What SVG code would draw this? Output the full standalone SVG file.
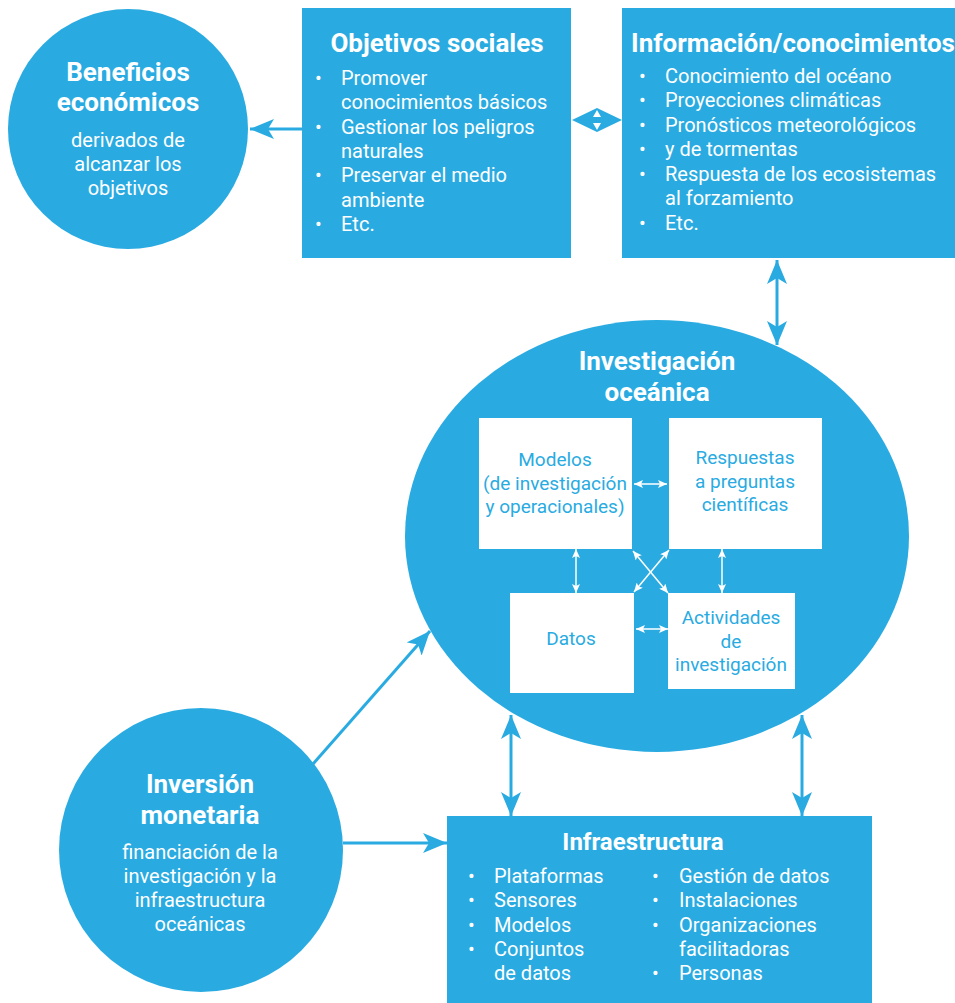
<svg xmlns="http://www.w3.org/2000/svg" width="955" height="1003" viewBox="0 0 955 1003">
<style>
.blue{fill:#29abe2}
.t{font-family:Roboto,"Liberation Sans",sans-serif;fill:#fff}
.h{font-size:26px;font-weight:bold;text-anchor:middle}
.b{font-size:20px}
.c{text-anchor:middle}
.in{font-family:Roboto,"Liberation Sans",sans-serif;fill:#29abe2;font-size:19px;text-anchor:middle}
.ln{stroke:#29abe2;stroke-width:3;fill:none}
.wl{stroke:#fff;stroke-width:1.5;fill:none}
</style>
<defs>
<marker id="ah" viewBox="0 0 24 20" refX="24" refY="10" markerWidth="24" markerHeight="20" markerUnits="userSpaceOnUse" orient="auto-start-reverse">
<path d="M0,0 L24,10 L0,20 L6,10 Z" fill="#29abe2"/>
</marker>
<marker id="wh" viewBox="0 0 9 8" refX="9" refY="4" markerWidth="9" markerHeight="8" markerUnits="userSpaceOnUse" orient="auto-start-reverse">
<path d="M0,0 L9,4 L0,8 L2,4 Z" fill="#fff"/>
</marker>
</defs>

<g id="beneficios">
<circle class="blue" cx="128" cy="129" r="120"/>
<text class="t h" x="128" y="81">Beneficios</text>
<text class="t h" x="128" y="111">económicos</text>
<text class="t b c" x="128" y="147">derivados de</text>
<text class="t b c" x="128" y="171">alcanzar los</text>
<text class="t b c" x="128" y="195">objetivos</text>
</g>

<g id="objetivos">
<rect class="blue" x="302" y="8" width="269" height="250"/>
<text class="t h" x="437" y="52">Objetivos sociales</text>
<g class="t b">
<text x="315" y="85">•</text><text x="341" y="85">Promover</text>
<text x="341" y="109">conocimientos básicos</text>
<text x="315" y="134">•</text><text x="341" y="134">Gestionar los peligros</text>
<text x="341" y="158">naturales</text>
<text x="315" y="182">•</text><text x="341" y="182">Preservar el medio</text>
<text x="341" y="207">ambiente</text>
<text x="315" y="231">•</text><text x="341" y="231">Etc.</text>
</g>
</g>

<g id="informacion">
<rect class="blue" x="622" y="8" width="333" height="250"/>
<text class="t h" x="793" y="52">Información/conocimientos</text>
<g class="t b">
<text x="639" y="83">•</text><text x="665" y="83">Conocimiento del océano</text>
<text x="639" y="107">•</text><text x="665" y="107">Proyecciones climáticas</text>
<text x="639" y="132">•</text><text x="665" y="132">Pronósticos meteorológicos</text>
<text x="639" y="156">•</text><text x="665" y="156">y de tormentas</text>
<text x="639" y="181">•</text><text x="665" y="181">Respuesta de los ecosistemas</text>
<text x="665" y="205">al forzamiento</text>
<text x="639" y="230">•</text><text x="665" y="230">Etc.</text>
</g>
</g>

<g id="investigacion">
<ellipse class="blue" cx="657" cy="536" rx="252" ry="216"/>
<text class="t h" x="657" y="370">Investigación</text>
<text class="t h" x="657" y="401">oceánica</text>
<g id="modelos">
<rect x="479" y="418" width="153" height="131" fill="#fff"/>
<text class="in" x="555" y="466">Modelos</text>
<text class="in" x="555" y="490">(de investigación</text>
<text class="in" x="555" y="513">y operacionales)</text>
</g>
<g id="respuestas">
<rect x="669" y="418" width="153" height="131" fill="#fff"/>
<text class="in" x="745" y="464">Respuestas</text>
<text class="in" x="745" y="488">a preguntas</text>
<text class="in" x="745" y="511">científicas</text>
</g>
<g id="datos">
<rect x="510" y="593" width="124" height="100" fill="#fff"/>
<text class="in" x="571" y="645">Datos</text>
</g>
<g id="actividades">
<rect x="668" y="593" width="127" height="96" fill="#fff"/>
<text class="in" x="731" y="624">Actividades</text>
<text class="in" x="731" y="648">de</text>
<text class="in" x="731" y="671">investigación</text>
</g>
</g>

<g id="inversion">
<circle class="blue" cx="201" cy="850" r="142"/>
<text class="t h" x="200" y="793">Inversión</text>
<text class="t h" x="200" y="824">monetaria</text>
<text class="t b c" x="200" y="859">financiación de la</text>
<text class="t b c" x="200" y="883">investigación y la</text>
<text class="t b c" x="200" y="907">infraestructura</text>
<text class="t b c" x="200" y="931">oceánicas</text>
</g>

<g id="infraestructura">
<rect class="blue" x="447" y="816" width="425" height="187"/>
<text class="t h" x="643" y="850" style="font-size:24px">Infraestructura</text>
<g class="t b">
<text x="468" y="883">•</text><text x="494" y="883">Plataformas</text>
<text x="468" y="907">•</text><text x="494" y="907">Sensores</text>
<text x="468" y="932">•</text><text x="494" y="932">Modelos</text>
<text x="468" y="956">•</text><text x="494" y="956">Conjuntos</text>
<text x="494" y="980">de datos</text>
<text x="652" y="883">•</text><text x="679" y="883">Gestión de datos</text>
<text x="652" y="907">•</text><text x="679" y="907">Instalaciones</text>
<text x="652" y="932">•</text><text x="679" y="932">Organizaciones</text>
<text x="679" y="956">facilitadoras</text>
<text x="652" y="980">•</text><text x="679" y="980">Personas</text>
</g>
</g>

<g id="connectors">
<line class="ln" x1="302" y1="129" x2="250" y2="129" marker-end="url(#ah)"/>
<polygon class="blue" points="572,120 597,108 622,120 597,132"/>
<polygon points="597,110 593,117 601,117" fill="#fff"/>
<polygon points="597,130 593,123 601,123" fill="#fff"/>
<line class="ln" x1="777" y1="260" x2="777" y2="345" marker-start="url(#ah)" marker-end="url(#ah)"/>
<line class="ln" x1="511" y1="715" x2="511" y2="816" marker-start="url(#ah)" marker-end="url(#ah)"/>
<line class="ln" x1="802" y1="715" x2="802" y2="816" marker-start="url(#ah)" marker-end="url(#ah)"/>
<line class="ln" x1="313" y1="764" x2="430" y2="631" marker-end="url(#ah)"/>
<line class="ln" x1="343" y1="843" x2="447" y2="843" marker-end="url(#ah)"/>
<line class="wl" x1="634" y1="484" x2="667" y2="484" marker-start="url(#wh)" marker-end="url(#wh)"/>
<line class="wl" x1="636" y1="629" x2="668" y2="629" marker-start="url(#wh)" marker-end="url(#wh)"/>
<line class="wl" x1="576" y1="549" x2="576" y2="593" marker-start="url(#wh)" marker-end="url(#wh)"/>
<line class="wl" x1="722" y1="549" x2="722" y2="593" marker-start="url(#wh)" marker-end="url(#wh)"/>
<line class="wl" x1="633" y1="551" x2="668" y2="593" marker-start="url(#wh)" marker-end="url(#wh)"/>
<line class="wl" x1="669" y1="550" x2="634" y2="592" marker-start="url(#wh)" marker-end="url(#wh)"/>
</g>
</svg>
